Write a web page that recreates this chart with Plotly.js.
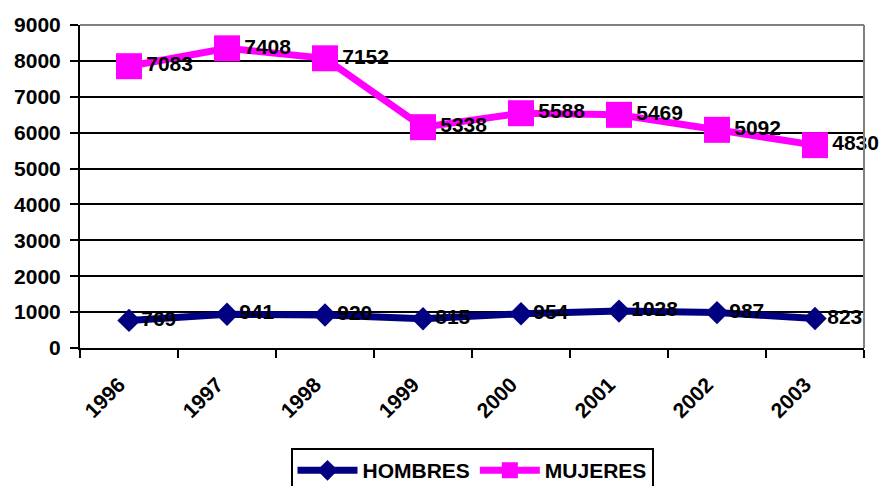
<!DOCTYPE html>
<html>
<head>
<meta charset="utf-8">
<script src="https://cdn.plot.ly/plotly-3.0.1.min.js"></script>
<style>html,body{margin:0;padding:0;background:#fff;}#chart{width:884px;height:486px;}</style>
</head>
<body>
<div id="chart"></div>
<script>
const years = ['1996','1997','1998','1999','2000','2001','2002','2003'];
const hombres = [769, 941, 920, 815, 954, 1028, 987, 823];
const mujeres = [7083, 7408, 7152, 5338, 5588, 5469, 5092, 4830];

const fam = 'Liberation Sans, Arial, sans-serif';
const bold = (s) => ({family: fam, size: s, color: '#000', weight: 'bold'});

const traces = [
  {
    name: 'HOMBRES', x: years, y: hombres, type: 'scatter',
    stackgroup: 'one', fill: 'none',
    mode: 'lines+markers+text',
    line: {color: '#000080', width: 7},
    marker: {symbol: 'diamond', size: 18, color: '#000080'},
    text: hombres.map(String), textposition: 'middle right',
    textfont: bold(21),
    cliponaxis: false
  },
  {
    name: 'MUJERES', x: years, y: mujeres, type: 'scatter',
    stackgroup: 'one', fill: 'none',
    mode: 'lines+markers+text',
    line: {color: '#FF00FF', width: 7},
    marker: {symbol: 'square', size: 26, color: '#FF00FF'},
    text: mujeres.map(String), textposition: 'middle right',
    textfont: bold(21),
    cliponaxis: false
  }
];

const layout = {
  width: 884, height: 486,
  margin: {l: 80, r: 20, t: 25, b: 138, autoexpand: false},
  paper_bgcolor: '#fff', plot_bgcolor: '#fff',
  font: bold(21),
  showlegend: true,
  legend: {
    orientation: 'h', x: 0.5, xanchor: 'center', y: -0.31, yanchor: 'top',
    bordercolor: '#000', borderwidth: 2, bgcolor: '#fff',
    font: bold(21),
    itemwidth: 60,
    tracegroupgap: 0
  },
  xaxis: {
    type: 'category', range: [-0.5, 7.5], automargin: false,
    tickson: 'boundaries', ticks: 'outside', ticklen: 8, tickwidth: 2, tickcolor: '#000',
    showline: true, linecolor: '#000', linewidth: 2,
    showgrid: false, zeroline: false,
    tickangle: -45, ticklabelstandoff: 14, ticklabelshift: -10,
    tickfont: bold(21),
    fixedrange: true
  },
  yaxis: {
    range: [0, 9000], dtick: 1000, tick0: 0, automargin: false,
    ticks: 'outside', ticklen: 8, tickwidth: 2, tickcolor: '#000',
    showline: true, linecolor: '#000', linewidth: 2,
    showgrid: true, gridcolor: '#000', gridwidth: 2,
    zeroline: false, ticklabelstandoff: 5,
    tickfont: bold(21),
    fixedrange: true
  },
  shapes: [
    {type: 'line', xref: 'paper', yref: 'paper', x0: 0, x1: 1, y0: 1, y1: 1, line: {color: '#808080', width: 2}, layer: 'above'},
    {type: 'line', xref: 'paper', yref: 'paper', x0: 1, x1: 1, y0: 0, y1: 1, line: {color: '#808080', width: 2}, layer: 'above'}
  ]
};

Plotly.newPlot('chart', traces, layout, {displayModeBar: false, staticPlot: true});
</script>
</body>
</html>
